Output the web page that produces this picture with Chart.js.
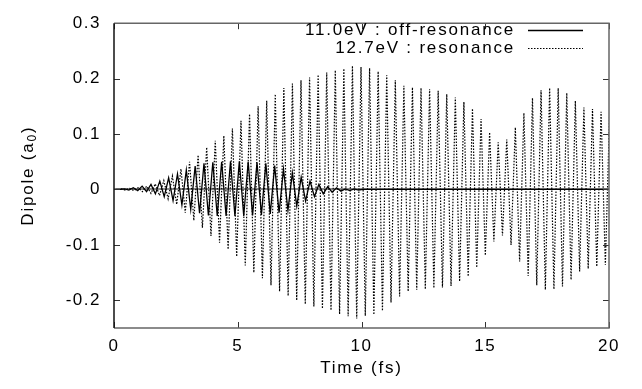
<!DOCTYPE html>
<html>
<head>
<meta charset="utf-8">
<script src="https://cdn.jsdelivr.net/npm/chart.js@4.4.1/dist/chart.umd.min.js"></script>
<style>
  html, body { margin: 0; padding: 0; background: #fff; }
  #wrap { width: 642px; height: 389px; }
</style>
</head>
<body>
<div id="wrap"><canvas id="chart"></canvas></div>
<script>
// ============================================================
// Dipole vs time — off-resonance (11.0 eV) and resonance (12.7 eV)
// ============================================================

const seriesLabels = ["11.0eV : off-resonance", "12.7eV : resonance"];
const xTicks = [0, 5, 10, 15, 20];
const yTicks = [-0.2, -0.1, 0, 0.1, 0.2, 0.3];

// 11.0 eV: crest / trough values, one every half period (fs), then flat to the end
const offStart = 0.066;
const offHalfPeriod = 0.1785;
const offEnd = 20;
const offDipole = [
  0, 0, 0.001, -0.001, 0.003, -0.002, 0.006, -0.004, 0.009, -0.008,
  0.015, -0.013, 0.021, -0.020, 0.028, -0.028, 0.035, -0.036, 0.042, -0.043,
  0.047, -0.047, 0.049, -0.048, 0.050, -0.048, 0.051, -0.048, 0.051, -0.048,
  0.050, -0.047, 0.049, -0.046, 0.047, -0.044, 0.043, -0.042, 0.037, -0.038,
  0.030, -0.030, 0.022, -0.021, 0.015, -0.013, 0.009, -0.008, 0.005, -0.005,
  0.003, -0.003, 0.001, -0.002, 0.001, -0.001, 0
];

// 12.7 eV: crest / trough values, one every half period (fs)
const resStart = 0.281;
const resHalfPeriod = 0.1732;
const resDipole = [
  0.001, -0.001, 0.002, -0.002, 0.003, -0.004, 0.006, -0.007, 0.010, -0.011,
  0.016, -0.017, 0.024, -0.027, 0.037, -0.042, 0.050, -0.056, 0.062, -0.069,
  0.076, -0.084, 0.088, -0.096, 0.097, -0.108, 0.110, -0.121, 0.124, -0.137,
  0.136, -0.150, 0.150, -0.160, 0.160, -0.173, 0.172, -0.184, 0.183, -0.192,
  0.191, -0.200, 0.197, -0.207, 0.202, -0.211, 0.207, -0.215, 0.211, -0.218,
  0.215, -0.225, 0.218, -0.229, 0.223, -0.233, 0.221, -0.228, 0.219, -0.226,
  0.213, -0.219, 0.206, -0.204, 0.197, -0.193, 0.187, -0.184, 0.184, -0.181,
  0.183, -0.180, 0.181, -0.178, 0.178, -0.177, 0.172, -0.174, 0.166, -0.166,
  0.158, -0.157, 0.146, -0.141, 0.127, -0.119, 0.103, -0.094, 0.085, -0.083,
  0.090, -0.100, 0.112, -0.130, 0.138, -0.156, 0.165, -0.173, 0.179, -0.181,
  0.183, -0.180, 0.183, -0.175, 0.174, -0.163, 0.160, -0.148, 0.148, -0.143,
  0.145, -0.139, 0.140, -0.136, 0.138
];

const FONT = "'Liberation Sans', Arial, sans-serif";

function toPoints(start, step, values) {
  return values.map((y, i) => ({ x: start + i * step, y }));
}

const offPoints = toPoints(offStart, offHalfPeriod, offDipole);
offPoints.push({ x: offEnd, y: 0 });
const resPoints = toPoints(resStart, resHalfPeriod, resDipole);

/* =========================
   FRAME, TICKS, LEGEND, TITLES
========================= */
const gnuplotLook = {
  id: "gnuplotLook",
  beforeDraw(chart) {
    chart.ctx.letterSpacing = "1.5px";
  },
  afterDraw(chart) {
    const { ctx, chartArea: a, scales } = chart;
    ctx.save();

    // inward ticks on all four sides
    ctx.strokeStyle = "#333";
    ctx.lineWidth = 1;
    ctx.beginPath();
    yTicks.forEach((v) => {
      const y = Math.round(scales.y.getPixelForValue(v)) + 0.5;
      ctx.moveTo(a.left, y); ctx.lineTo(a.left + 6, y);
      ctx.moveTo(a.right, y); ctx.lineTo(a.right - 6, y);
    });
    xTicks.forEach((v) => {
      const x = Math.round(scales.x.getPixelForValue(v)) + 0.5;
      ctx.moveTo(x, a.bottom); ctx.lineTo(x, a.bottom - 6);
      ctx.moveTo(x, a.top); ctx.lineTo(x, a.top + 6);
    });
    ctx.stroke();

    // border
    ctx.lineWidth = 1.5;
    ctx.strokeStyle = "#666";
    ctx.beginPath();
    ctx.moveTo(a.left, a.top); ctx.lineTo(a.right, a.top);
    ctx.lineTo(a.right, a.bottom); ctx.lineTo(a.left, a.bottom);
    ctx.stroke();
    ctx.strokeStyle = "#111";
    ctx.beginPath();
    ctx.moveTo(a.left, a.top); ctx.lineTo(a.left, a.bottom);
    ctx.stroke();

    // legend (text right-aligned, sample line to the right)
    ctx.fillStyle = "#000";
    ctx.font = "17px " + FONT;
    ctx.letterSpacing = "1.8px";
    ctx.textAlign = "right";
    ctx.textBaseline = "middle";
    const rows = [30, 48];
    chart.data.datasets.forEach((ds, i) => {
      if (!ds.label) return;
      ctx.fillText(ds.label, 515, rows[i]);
      ctx.beginPath();
      ctx.lineWidth = ds.borderWidth;
      ctx.strokeStyle = "#000";
      ctx.setLineDash(ds.borderDash || []);
      ctx.moveTo(528, rows[i] + 0.5);
      ctx.lineTo(583, rows[i] + 0.5);
      ctx.stroke();
      ctx.setLineDash([]);
    });

    // x title
    ctx.letterSpacing = "1.8px";
    ctx.textAlign = "center";
    ctx.fillText("Time (fs)", (a.left + a.right) / 2, 368);

    // y title with subscript
    ctx.translate(28, (a.top + a.bottom) / 2);
    ctx.rotate(-Math.PI / 2);
    ctx.textAlign = "left";
    const main = "Dipole (a", sub = "0", close = ")";
    ctx.font = "17px " + FONT;
    const w1 = ctx.measureText(main).width;
    const w3 = ctx.measureText(close).width;
    ctx.font = "12px " + FONT;
    const w2 = ctx.measureText(sub).width;
    let x0 = -(w1 + w2 + w3) / 2;
    ctx.font = "17px " + FONT;
    ctx.fillText(main, x0, 0);
    ctx.font = "12px " + FONT;
    ctx.fillText(sub, x0 + w1, 5);
    ctx.font = "17px " + FONT;
    ctx.fillText(close, x0 + w1 + w2, 0);

    ctx.restore();
  },
};

Chart.defaults.font.family = FONT;
Chart.defaults.font.size = 17;
Chart.defaults.color = "#000";

new Chart(document.getElementById("chart").getContext("2d"), {
  type: "line",
  data: {
    datasets: [
      {
        label: seriesLabels[0],
        data: offPoints,
        borderColor: "#000",
        borderWidth: 1.3,
        pointRadius: 0,
        tension: 0,
      },
      {
        label: seriesLabels[1],
        data: resPoints,
        borderColor: "#000",
        borderWidth: 1.2,
        borderDash: [1.5, 1.5],
        pointRadius: 0,
        tension: 0,
      },
    ],
  },
  options: {
    responsive: true,
    maintainAspectRatio: false,
    animation: false,
    events: [],
    layout: { padding: { top: 15, right: 33, bottom: 0, left: 0 } },
    plugins: { legend: { display: false }, tooltip: { enabled: false } },
    scales: {
      x: {
        type: "linear",
        min: 0,
        max: 20,
        afterBuildTicks: (s) => { s.ticks = xTicks.map((v) => ({ value: v })); },
        afterFit: (s) => { s.height = 61; },
        ticks: { padding: 8, maxRotation: 0, callback: (v) => String(v) },
        grid: { display: false, drawTicks: false },
        border: { display: false },
      },
      y: {
        type: "linear",
        min: -0.25,
        max: 0.3,
        afterBuildTicks: (s) => { s.ticks = yTicks.map((v) => ({ value: v })); },
        afterFit: (s) => { s.width = 114; },
        ticks: { padding: 13, callback: (v) => String(v) },
        grid: {
          drawTicks: false,
          lineWidth: 2,
          color: (c) => (c.tick && c.tick.value === 0 ? "#8c8c8c" : "rgba(0,0,0,0)"),
        },
        border: { display: false },
      },
    },
  },
  plugins: [gnuplotLook],
});
</script>
</body>
</html>
